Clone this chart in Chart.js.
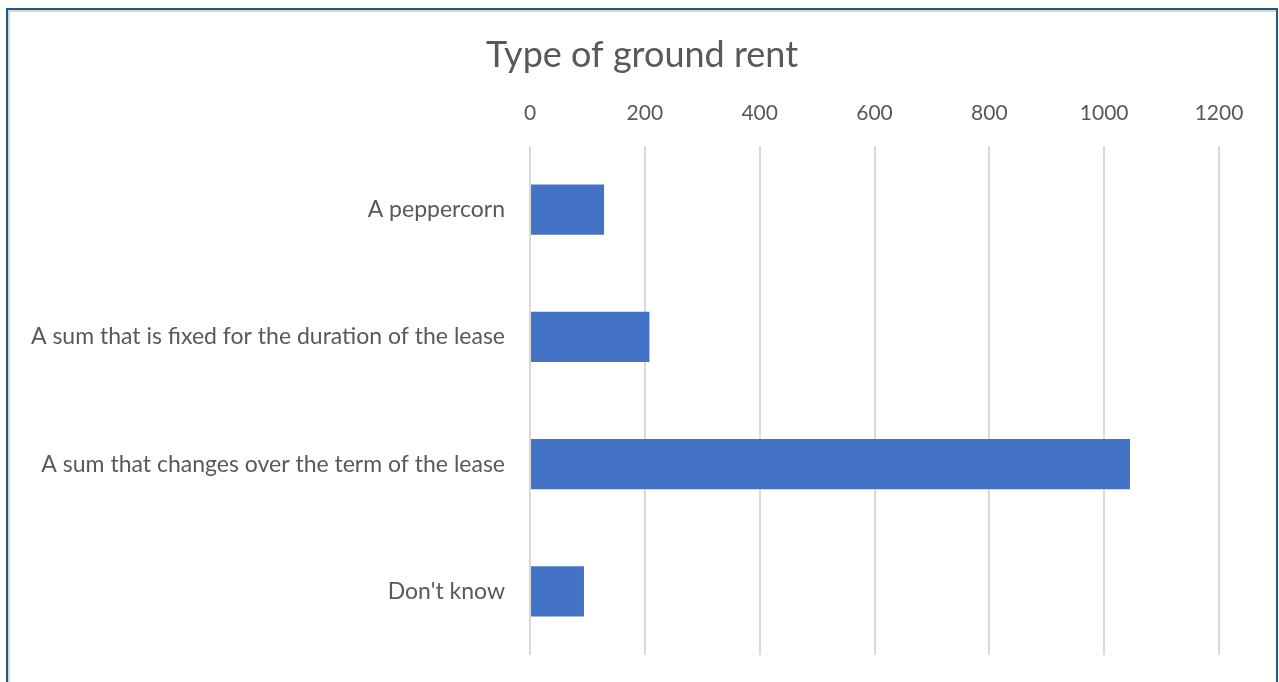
<!DOCTYPE html>
<html>
<head>
<meta charset="utf-8">
<script src="https://cdn.jsdelivr.net/npm/chart.js@4"></script>
<style>
    body { margin: 0; background: #fff; }
    #wrap { position: relative; width: 1279px; height: 682px; overflow: hidden; }
    #chart { position: absolute; left: 0; top: 0; }
    /* the dark blue frame round the chart */
    #frame {
        position: absolute; left: 6px; top: 8px; width: 1268px; height: 700px;
        border: 2px solid #1f5a8a; box-shadow: inset 2px 2px 0 #d6d6d6;
        pointer-events: none;
    }
</style>
</head>
<body>
<div id="wrap">
    <canvas id="chart" width="1279" height="682"></canvas>
    <div id="frame"></div>
</div>
<script>
// Data
const categories = [
    "A peppercorn",
    "A sum that is fixed for the duration of the lease",
    "A sum that changes over the term of the lease",
    "Don't know"
];
const counts = [129, 208, 1045, 94];
const tickValues = [0, 200, 400, 600, 800, 1000, 1200];

const textColor = "#595959";
const fontName = "Lato, 'Open Sans', sans-serif";

let ctx = document.getElementById("chart").getContext("2d");
let chart = new Chart(ctx, {
    type: "bar",
    data: {
        labels: categories,
        datasets: [
            {
                label: "Count",
                data: counts,
                backgroundColor: "#4472c4",
                borderWidth: 0,
                barPercentage: 0.79,
                categoryPercentage: 0.5
            }
        ]
    },
    options: {
        indexAxis: "y",
        responsive: false,
        animation: false,
        layout: {
            padding: { left: 5, right: 0, top: 0, bottom: 27 }
        },
        plugins: {
            legend: { display: false },
            tooltip: { enabled: false },
            title: {
                display: true,
                text: "Type of ground rent",
                color: textColor,
                font: { family: fontName, size: 36, weight: "normal" },
                padding: { top: 34, bottom: 0 }
            }
        },
        scales: {
            x: {
                position: "top",
                min: 0,
                max: 1200,
                afterBuildTicks: (scale) => {
                    scale.ticks = tickValues.map(v => ({ value: v }));
                },
                afterFit: (scale) => { scale.height = 68.8; },
                ticks: {
                    color: textColor,
                    font: { family: fontName, size: 21 },
                    padding: 20,
                    callback: (v) => String(v)
                },
                grid: {
                    color: "#d9d9d9",
                    lineWidth: 2,
                    drawTicks: false
                },
                border: { display: false }
            },
            y: {
                afterFit: (scale) => {
                    scale.width = 525;
                    scale.paddingTop = 0;
                    scale.paddingBottom = 0;
                },
                ticks: {
                    color: textColor,
                    font: { family: fontName, size: 23 },
                    padding: 17
                },
                grid: { display: false },
                border: { display: false }
            },
            // empty axis on the right, only to keep the title centred on the frame
            spacer: {
                type: "linear",
                position: "right",
                afterFit: (scale) => {
                    scale.width = 60;
                    scale.paddingTop = 0;
                    scale.paddingBottom = 0;
                },
                ticks: { display: false },
                grid: { display: false },
                border: { display: false }
            }
        }
    }
});
</script>
</body>
</html>
